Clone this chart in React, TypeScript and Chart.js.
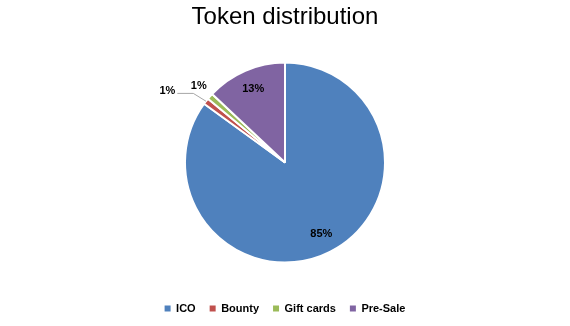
import React, { useEffect, useRef } from 'react';
import { Chart, registerables } from 'chart.js';

Chart.register(...registerables);

const chartTitle = 'Token distribution';
const categories = ['ICO', 'Bounty', 'Gift cards', 'Pre-Sale'];
const shares = [85, 1, 1, 13];
const sliceColors = ['#4F81BD', '#C0504D', '#9BBB59', '#8064A2'];

const FONT = '"Liberation Sans", Arial, sans-serif';

const pctLabelPlugin = {
  id: 'pctLabels',
  afterDatasetsDraw(chart: any) {
    const ctx = chart.ctx;
    const meta = chart.getDatasetMeta(0);
    const data = chart.data.datasets[0].data as number[];
    const total = data.reduce((a, b) => a + b, 0);
    const smallCount = data.filter((v) => v / total < 0.05).length;
    let smallIdx = 0;
    ctx.save();
    ctx.font = `bold 11px ${FONT}`;
    ctx.fillStyle = '#000';
    ctx.textBaseline = 'middle';
    meta.data.forEach((arc: any, i: number) => {
      const { x, y, startAngle, endAngle, outerRadius } = arc.getProps(
        ['x', 'y', 'startAngle', 'endAngle', 'outerRadius'],
        true
      );
      const r = outerRadius;
      const mid = (startAngle + endAngle) / 2;
      const c = Math.cos(mid);
      const s = Math.sin(mid);
      const frac = data[i] / total;
      const txt = Math.round(frac * 100) + '%';
      if (frac >= 0.05) {
        ctx.textAlign = 'center';
        ctx.fillText(txt, x + c * r * 0.8, y + s * r * 0.8);
      } else if (smallIdx < smallCount - 1) {
        smallIdx++;
        const ex = x + c * r;
        const ey = y + s * r;
        const bx = x + c * r * 1.16;
        const by = y + s * r * 1.16 + 2;
        const lx = bx - 16;
        ctx.strokeStyle = '#A6A6A6';
        ctx.lineWidth = 1;
        ctx.beginPath();
        ctx.moveTo(ex, ey);
        ctx.lineTo(bx, by);
        ctx.lineTo(lx, by);
        ctx.stroke();
        ctx.textAlign = 'right';
        ctx.fillText(txt, lx - 2, by - 2);
      } else {
        smallIdx++;
        ctx.textAlign = 'center';
        ctx.fillText(txt, x + c * r * 1.15, y + s * r * 1.15);
      }
    });
    ctx.restore();
  },
};

export default function App() {
  const canvasRef = useRef<HTMLCanvasElement | null>(null);

  useEffect(() => {
    if (!canvasRef.current) return;
    const chart = new Chart(canvasRef.current, {
      type: 'pie',
      data: {
        labels: categories,
        datasets: [
          {
            data: shares,
            backgroundColor: sliceColors,
            borderColor: '#FFFFFF',
            borderWidth: 2,
            hoverOffset: 0,
            radius: 100,
          } as any,
        ],
      },
      options: {
        responsive: false,
        animation: false,
        events: [],
        layout: { padding: { top: 0, bottom: 2, left: 0, right: 0 } },
        plugins: {
          tooltip: { enabled: false },
          title: {
            display: true,
            text: chartTitle,
            color: '#000',
            font: { family: FONT, size: 24, weight: 'normal' },
            padding: { top: 3, bottom: 4.2 },
          },
          legend: {
            display: true,
            position: 'bottom',
            labels: {
              boxWidth: 6,
              boxHeight: 6,
              padding: 14,
              color: '#000',
              font: { family: FONT, size: 11, weight: 'bold' },
              generateLabels: (ch: any) =>
                (Chart as any).overrides.pie.plugins.legend.labels
                  .generateLabels(ch)
                  .map((l: any) => ({ ...l, lineWidth: 0 })),
            },
          },
        },
      } as any,
      plugins: [pctLabelPlugin],
    });
    return () => chart.destroy();
  }, []);

  return (
    <div style={{ position: 'fixed', left: 0, top: 0, width: 570, height: 326, background: '#fff' }}>
      <canvas ref={canvasRef} width={570} height={326} />
    </div>
  );
}
